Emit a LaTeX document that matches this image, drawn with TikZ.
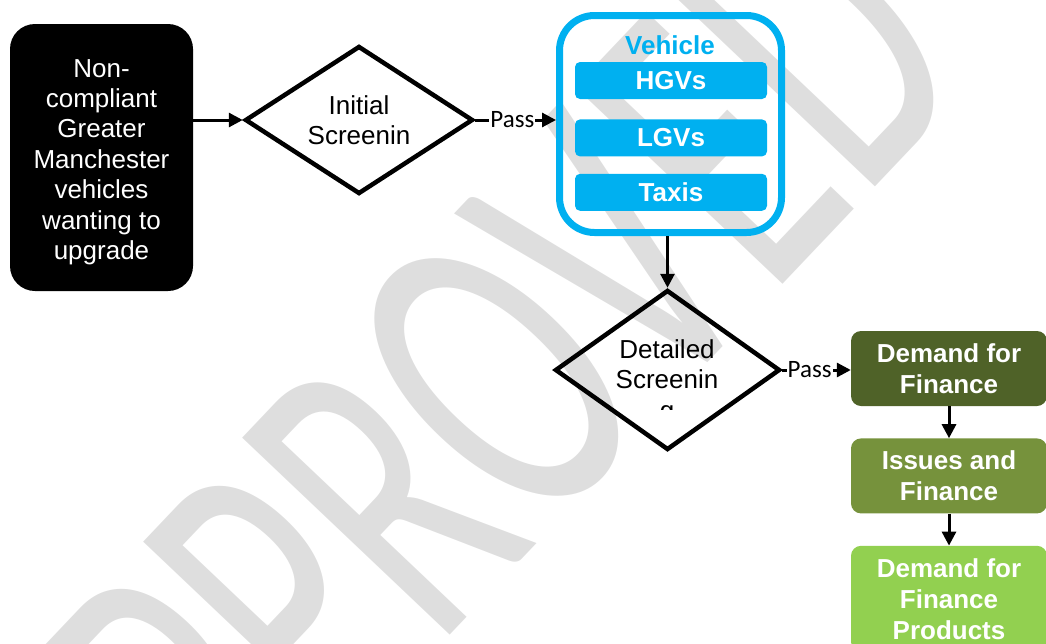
\documentclass[tikz,border=0pt]{standalone}
\usepackage{fontspec}
\setmainfont{Liberation Sans}
\newfontfamily\passfont{Carlito}
\newfontfamily\markfont{Carlito}
\usepackage{xcolor}
\usetikzlibrary{shapes.geometric,arrows.meta,positioning}

\definecolor{vblue}{HTML}{00B0F0}
\definecolor{findark}{HTML}{4F6228}
\definecolor{finmid}{HTML}{76923C}
\definecolor{finlight}{HTML}{92D050}
\definecolor{markgrey}{HTML}{DEDEDE}

\begin{document}
\begin{tikzpicture}[x=1pt,y=-1pt,
	txt/.style={font=\fontsize{26}{30.4}\selectfont, align=center},
	decision/.style={diamond, draw, line width=4.5pt, aspect=1.54, minimum width=228pt, minimum height=148pt, inner sep=0pt},
	flow/.style={line width=3pt, -{Triangle[length=14pt,width=14pt]}},
	pass/.style={fill=white, inner xsep=1pt, inner ysep=0pt, font=\passfont\fontsize{25}{26}\selectfont},
	bar/.style={fill=vblue, rounded corners=5pt, minimum width=192pt, minimum height=37pt, inner sep=0pt, text=white, font=\bfseries\fontsize{26}{30}\selectfont},
	fin/.style={rounded corners=10pt, minimum width=196pt, minimum height=75pt, inner sep=0pt, text=white, align=center, font=\bfseries\fontsize{26}{31}\selectfont}]

	\useasboundingbox (0,0) rectangle (1046,643);
	\clip (0,0) rectangle (1046,643);

	% stamp behind the chart
	\node[rotate=46.5, anchor=base west, inner sep=0pt, text=markgrey] (stamp) at (129,973)
		{\markfont\fontsize{446}{446}\selectfont\scalebox{0.62}[1]{APPROVED}};

	\node[fill=black, rounded corners=25pt, minimum width=183pt, minimum height=267pt, inner sep=0pt] (start) at (101.5,157.5) {};
	\node[txt, text=white] (starttext) at ([yshift=-4.5pt]start.center)
		{Non-\\compliant\\Greater\\Manchester\\vehicles\\wanting to\\upgrade};

	\node[decision, txt] (initial) at (359,120) {Initial\\Screenin};

	% vehicle types
	\node[draw=vblue, line width=7pt, rounded corners=35pt, minimum width=222pt, minimum height=217pt] (vehicle) at (670.5,124) {};
	\node[text=vblue, font=\bfseries\fontsize{26}{30}\selectfont] (vtitle) at (670,45) {Vehicle};
	\node[bar] (hgv) at (671,80.5) {HGVs};
	\node[bar, below=20pt of hgv] (lgv) {LGVs};
	\node[bar, below=17pt of lgv] (taxi) {Taxis};

	\node[decision, minimum width=225pt, minimum height=160pt] (detailed) at (667.5,370) {};
	\begin{scope}
		\clip (560,300) rectangle (775,409);
		\node[txt] (dtext) at (667,382) {Detailed\\Screenin\\g};
	\end{scope}

	% finance steps
	\node[fin, fill=findark] (demand) at (949,368.5) {Demand for\\Finance};
	\node[fin, fill=finmid, below=32pt of demand] (issues) {Issues and\\Finance};
	\node[fin, fill=finlight, below=32pt of issues, minimum height=106pt] (products) {Demand for\\Finance\\Products};

	\draw[flow] (initial.west -| start.east) -- (initial.west);
	\draw[flow] (initial.east) -- node[pass, pos=0.46] {Pass} (initial.east -| vehicle.west);
	\draw[flow] (detailed.north |- vehicle.south) -- (detailed.north);
	\draw[flow] (detailed.east) -- node[pass, pos=0.4] {Pass} (detailed.east -| demand.west);
	\draw[flow] (demand) -- (issues);
	\draw[flow] (issues) -- (products);
\end{tikzpicture}
\end{document}
